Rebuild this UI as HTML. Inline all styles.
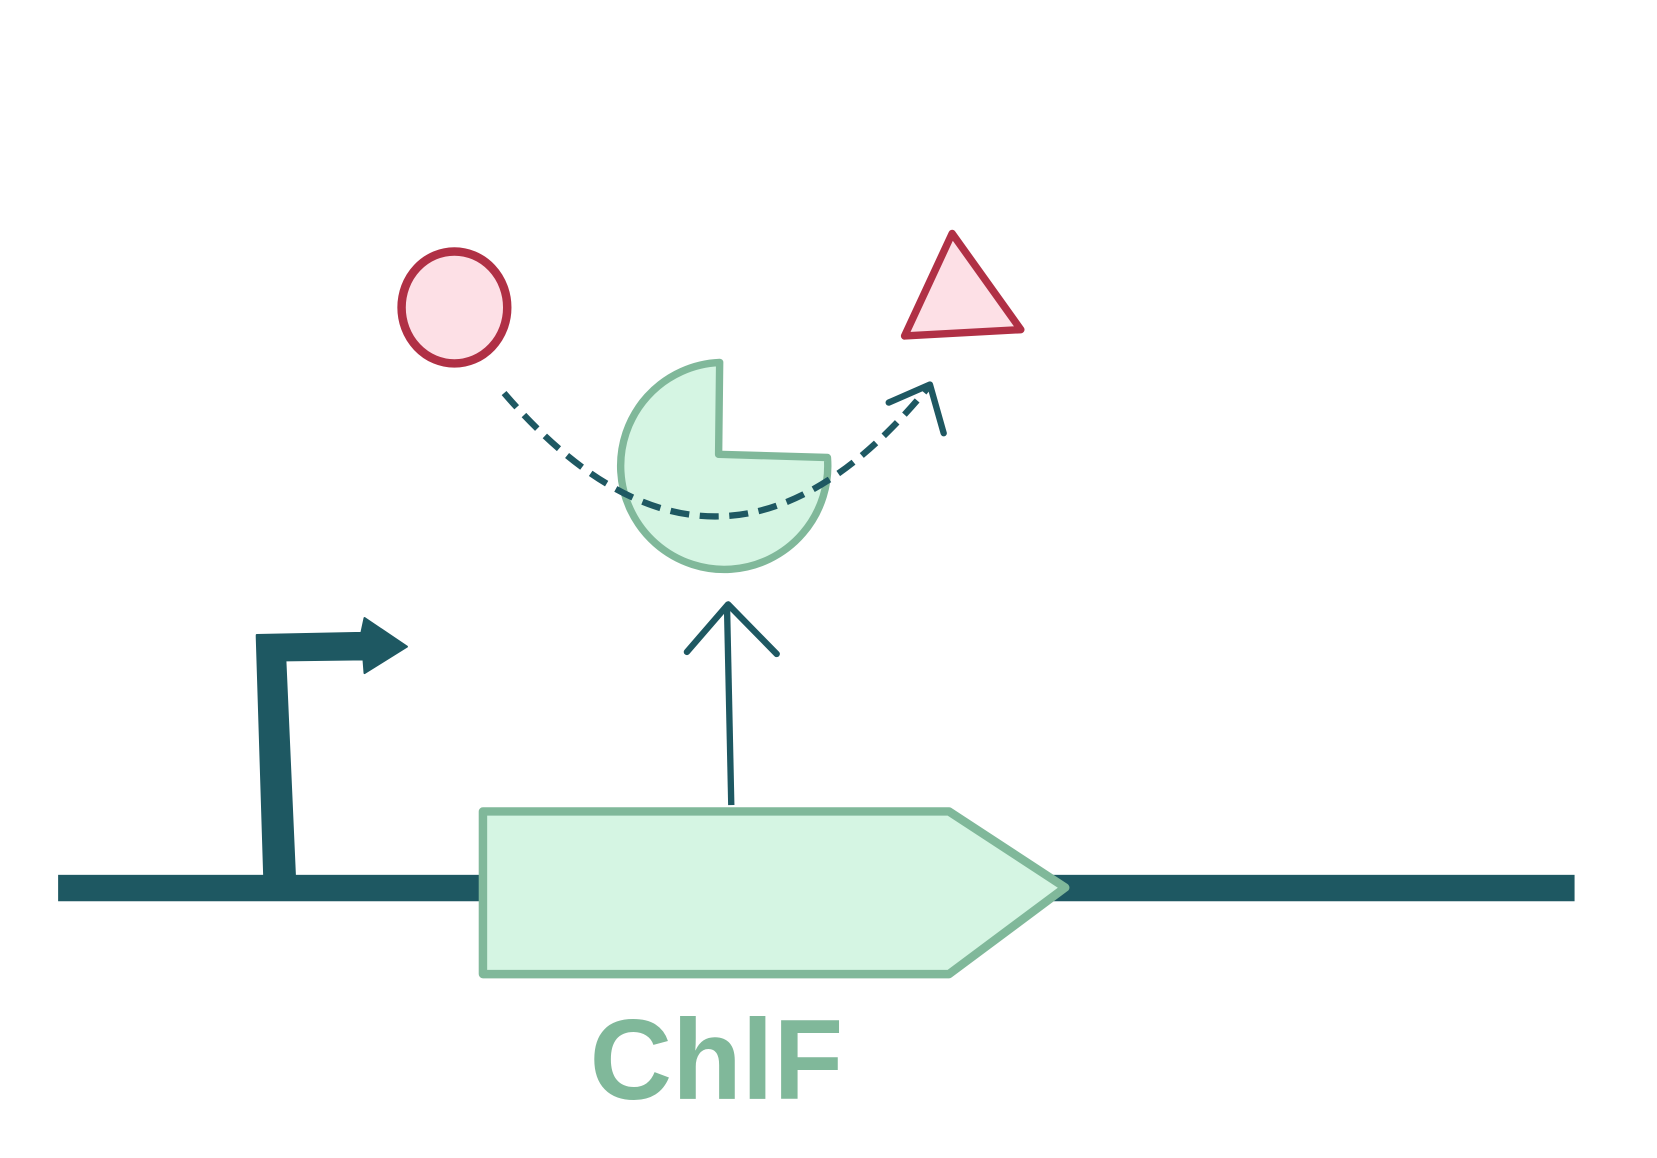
<!DOCTYPE html>
<html><head><style>html,body{margin:0;padding:0;background:#fff;}svg{display:block}</style></head>
<body>
<svg width="1657" height="1158" viewBox="0 0 1568 1096" preserveAspectRatio="none" xmlns="http://www.w3.org/2000/svg">
<rect x="55" y="828" width="1435" height="25" fill="#1e5862"/>
<polygon points="243,603 250,828 279,828 270,625 344,624 345,637 385,612 345,585 342,599 243,601" fill="#1e5862" stroke="#1e5862" stroke-width="2" stroke-linejoin="round"/>
<polygon points="457,768 898,768 1008,840 898,922 457,922" fill="#d5f5e3" stroke="#80b89a" stroke-width="8" stroke-linejoin="round"/>
<line x1="692" y1="762" x2="688" y2="576" stroke="#1e5862" stroke-width="6"/>
<polyline points="650,617 689,572 735,619" fill="none" stroke="#1e5862" stroke-width="6" stroke-linecap="round" stroke-linejoin="round"/>
<path d="M681,343 L680,430 L783,433 A98,98 0 1 1 681,343 Z" fill="#d5f5e3" stroke="#80b89a" stroke-width="7" stroke-linejoin="round"/>
<ellipse cx="430" cy="291" rx="50" ry="53" fill="#fde0e6" stroke="#b03045" stroke-width="8"/>
<polygon points="901,221 966,312 856,318" fill="#fde0e6" stroke="#b03045" stroke-width="7" stroke-linejoin="round"/>
<path d="M477,372 Q680,608 878,367" fill="none" stroke="#1e5862" stroke-width="6" stroke-dasharray="18,10" stroke-linecap="butt"/>
<polyline points="841,381 880,364 893,410" fill="none" stroke="#1e5862" stroke-width="6" stroke-linecap="round" stroke-linejoin="round"/>
<text x="558" y="1040" font-family="Liberation Sans, sans-serif" font-weight="bold" font-size="108" fill="#80b89a">ChlF</text>
</svg>
</body></html>
